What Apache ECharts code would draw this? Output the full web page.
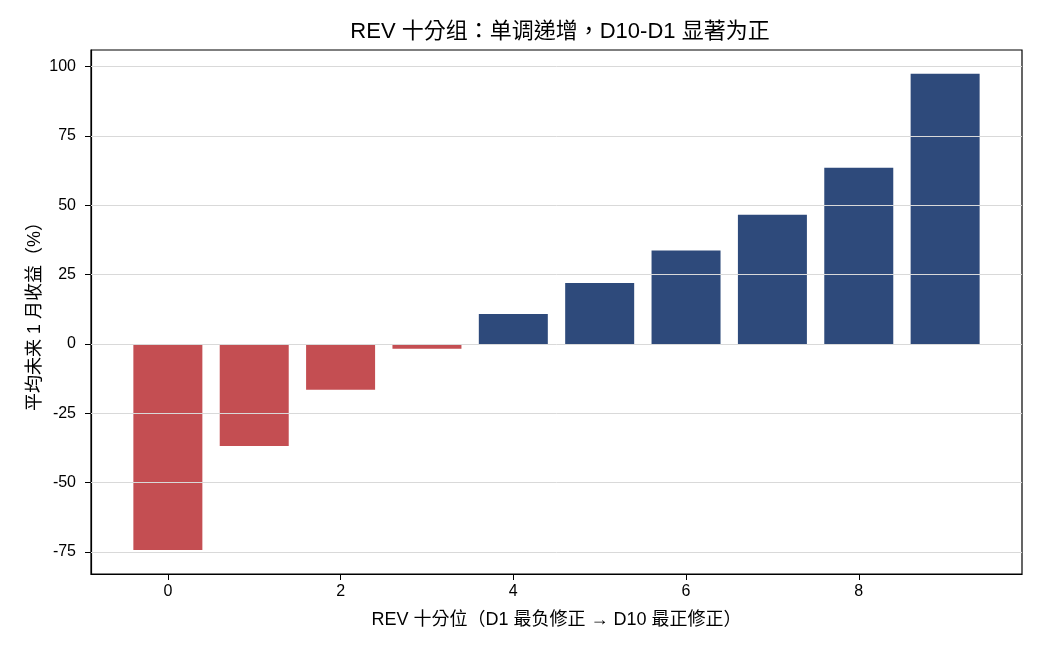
<!DOCTYPE html>
<html>
<head>
<meta charset="utf-8">
<script src="https://cdn.jsdelivr.net/npm/echarts@6/dist/echarts.min.js"></script>
<style>
  html, body { margin: 0; padding: 0; background: #fff; }
  #chart { width: 1040px; height: 650px; }
</style>
</head>
<body>
<div id="chart"></div>
<script>
// decile index (0 = D1 ... 9 = D10) and mean forward 1M return (%)
const deciles = [0, 1, 2, 3, 4, 5, 6, 7, 8, 9];
const returns = [-74.3, -36.8, -16.5, -1.8, 10.8, 22.0, 33.7, 46.6, 63.5, 97.4];
const xTicks = [0, 2, 4, 6, 8];
const yTicks = [-75, -50, -25, 0, 25, 50, 75, 100];

const font = '"Liberation Sans", Arial, "Noto Sans CJK TC", sans-serif';

const chart = echarts.init(document.getElementById('chart'));

const option = {
  backgroundColor: '#fff',
  animation: false,
  textStyle: { fontFamily: font },
  title: {
    text: 'REV 十分组：单调递增，D10-D1 显著为正',
    left: 555,
    top: 16,
    textAlign: 'center',
    textStyle: { fontFamily: font, fontSize: 22, fontWeight: 'normal', color: '#000' }
  },
  grid: {
    left: 91, right: 18, top: 50, bottom: 76,
    show: true, borderColor: '#000', borderWidth: 1.2, backgroundColor: 'transparent'
  },
  xAxis: {
    type: 'value',
    min: -0.89,
    max: 9.89,
    name: 'REV 十分位（D1 最负修正 → D10 最正修正）',
    nameLocation: 'middle',
    nameGap: 37,
    nameMoveOverlap: false,
    nameTextStyle: { fontFamily: font, fontSize: 18, color: '#000' },
    axisLine: { show: true, onZero: false, lineStyle: { color: '#000', width: 1.2 } },
    axisTick: { show: true, customValues: xTicks, length: 6, lineStyle: { color: '#000' } },
    axisLabel: { customValues: xTicks, fontSize: 16, color: '#000', margin: 10, fontFamily: font },
    splitLine: { show: false }
  },
  yAxis: {
    type: 'value',
    min: -83,
    max: 106,
    name: '平均未来 1 月收益（%）',
    nameLocation: 'middle',
    nameGap: 47,
    nameMoveOverlap: false,
    nameTextStyle: { fontFamily: font, fontSize: 18, color: '#000' },
    axisLine: { show: true, onZero: false, lineStyle: { color: '#000', width: 1.2 } },
    axisTick: { show: true, customValues: yTicks, length: 6, lineStyle: { color: '#000' } },
    axisLabel: { customValues: yTicks, fontSize: 16, color: '#000', margin: 15, fontFamily: font },
    splitLine: { show: false }
  },
  series: [{
    type: 'bar',
    barWidth: 69,
    data: deciles.map((d, i) => [d, returns[i]]),
    itemStyle: {
      color: (p) => (p.value[1] < 0 ? '#c44e52' : '#2e4a7b')
    },
    markLine: {
      silent: true,
      symbol: 'none',
      label: { show: false },
      lineStyle: { color: '#d9d9d9', width: 1, type: 'solid' },
      data: yTicks.map((v) => ({ yAxis: v }))
    }
  }]
};

chart.setOption(option);
</script>
</body>
</html>
